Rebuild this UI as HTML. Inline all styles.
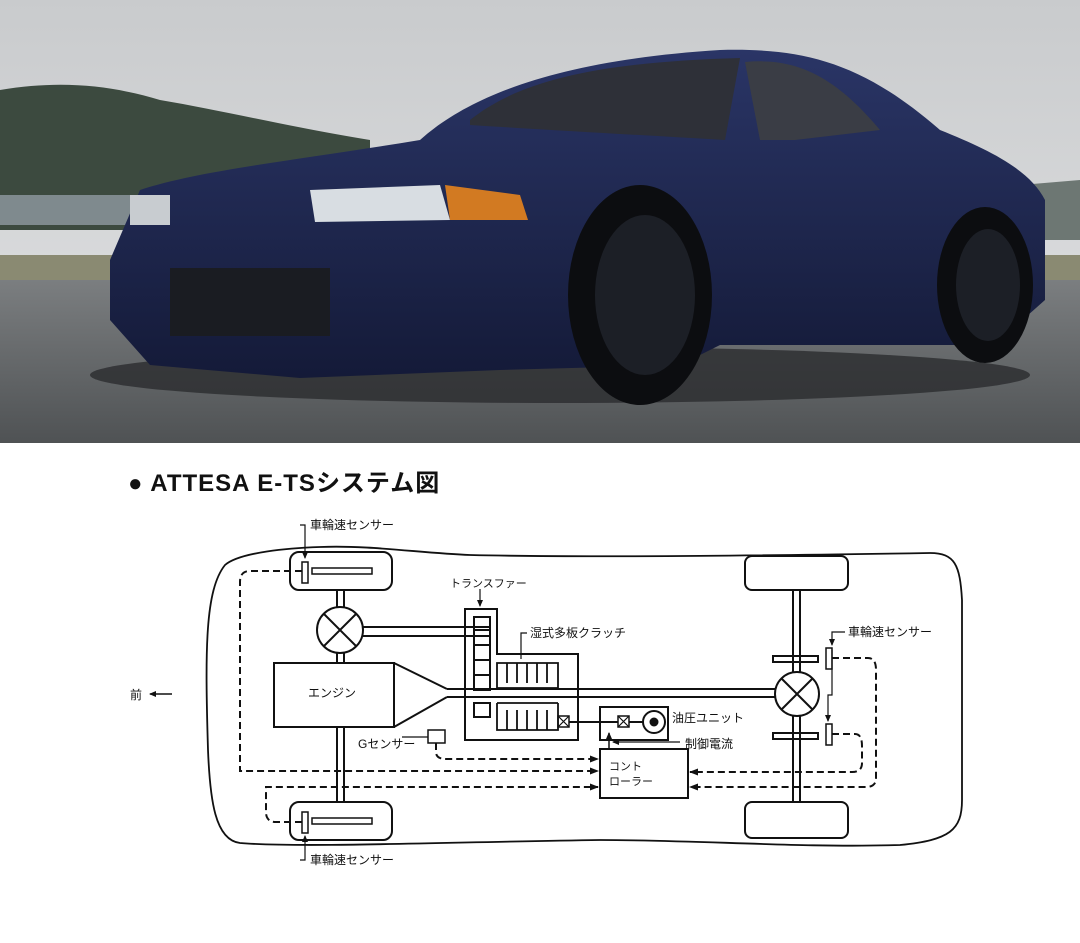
<!DOCTYPE html>
<html><head><meta charset="utf-8"><style>
html,body{margin:0;padding:0;background:#fff;}
body{width:1080px;height:943px;overflow:hidden;position:relative;font-family:"Liberation Sans","Noto Sans CJK JP",sans-serif;}
</style></head><body>
<svg width="1080" height="943" viewBox="0 0 1080 943" xmlns="http://www.w3.org/2000/svg" style="position:absolute;left:0;top:0">
<defs>
<linearGradient id="sky" x1="0" y1="0" x2="0" y2="1"><stop offset="0" stop-color="#c9cbcd"/><stop offset="1" stop-color="#e2e3e4"/></linearGradient>
<linearGradient id="road" x1="0" y1="0" x2="0" y2="1"><stop offset="0" stop-color="#7b7e80"/><stop offset="1" stop-color="#4f5254"/></linearGradient>
<linearGradient id="body" x1="0" y1="0" x2="0" y2="1"><stop offset="0" stop-color="#2a3566"/><stop offset="1" stop-color="#141a38"/></linearGradient>
<marker id="ah" markerUnits="userSpaceOnUse" markerWidth="9" markerHeight="8" refX="8" refY="4" orient="auto"><path d="M0,0.5 L9,4 L0,7.5 z" fill="#111"/></marker>
<marker id="as" markerUnits="userSpaceOnUse" markerWidth="7" markerHeight="6" refX="6" refY="3" orient="auto"><path d="M0,0 L7,3 L0,6 z" fill="#111"/></marker>
</defs>
<rect x="0" y="0" width="1080" height="443" fill="url(#sky)"/>
<path d="M0,90 C60,80 110,85 160,100 C220,110 280,125 370,140 L370,230 L0,230 z" fill="#3c4a3f"/>
<path d="M960,190 L1080,180 L1080,240 L960,240 z" fill="#6d7773"/>
<rect x="0" y="195" width="140" height="30" fill="#7f8a8e"/>
<rect x="0" y="255" width="1080" height="30" fill="#8a8a72"/>
<rect x="0" y="280" width="1080" height="163" fill="url(#road)"/>
<ellipse cx="560" cy="375" rx="470" ry="28" fill="#2b2c2e" opacity="0.8"/>
<path d="M110,260 L140,190 C200,170 300,160 420,140 C470,95 560,60 720,50 C800,48 860,60 940,130 C990,150 1030,170 1045,200 L1045,300 L1000,340 L960,345 L720,345 L680,365 L500,370 L300,378 L150,365 L110,320 z" fill="url(#body)"/>
<path d="M470,120 C520,80 600,62 740,58 L725,140 C640,135 550,130 470,125 z" fill="#2e3038"/>
<path d="M745,62 C790,58 830,70 880,130 L795,140 L760,140 z" fill="#3a3d45"/>
<path d="M310,190 L440,185 L450,220 L315,222 z" fill="#d8dde2"/>
<path d="M445,185 L520,195 L528,220 L450,220 z" fill="#d27a22"/>
<rect x="130" y="195" width="40" height="30" fill="#c8ccd0"/>
<rect x="170" y="268" width="160" height="68" fill="#1a1c22"/>
<ellipse cx="640" cy="295" rx="72" ry="110" fill="#0c0d10"/>
<ellipse cx="645" cy="295" rx="50" ry="80" fill="#1c1f26"/>
<ellipse cx="985" cy="285" rx="48" ry="78" fill="#0c0d10"/>
<ellipse cx="988" cy="285" rx="32" ry="56" fill="#1c1f26"/>
<g fill="none" stroke="#111" stroke-width="2">
<path d="M225,565 C240,552 290,548 320,547 C370,545 420,553 470,555 C600,558 800,555 930,553 C955,553 960,565 962,600 L962,800 C962,830 950,840 900,845 C800,848 700,840 600,840 C450,842 300,848 240,843 C215,840 210,800 208,750 C205,650 205,590 225,565 z" stroke-width="1.8"/>
<rect x="290" y="552" width="102" height="38" rx="9"/>
<rect x="290" y="802" width="102" height="38" rx="9"/>
<rect x="745" y="556" width="103" height="34" rx="7"/>
<rect x="745" y="802" width="103" height="36" rx="7"/>
<rect x="302" y="562" width="6" height="21" stroke-width="1.5"/>
<rect x="312" y="568" width="60" height="6" stroke-width="1.5"/>
<rect x="302" y="812" width="6" height="21" stroke-width="1.5"/>
<rect x="312" y="818" width="60" height="6" stroke-width="1.5"/>
<path d="M337,590 V608 M344,590 V608 M337,652 V663 M344,652 V663 M337,728 V802 M344,728 V802"/>
<circle cx="340" cy="630" r="23"/>
<path d="M324,614 L356,646 M356,614 L324,646"/>
<path d="M363,627 H490 M363,636 H490"/>
<path d="M465,740 V609 H497 V654 H578 V740 z"/>
<rect x="474" y="617" width="16" height="73"/>
<path d="M474,630 H490 M474,645 H490 M474,660 H490 M474,675 H490"/>
<rect x="474" y="703" width="16" height="14"/>
<path d="M497,688 V663 H558 V688 M507,663 V683 M517,663 V683 M527,663 V683 M537,663 V683 M547,663 V683 M497,688 H558" stroke-width="1.8"/>
<path d="M497,703 V730 H558 V703 M507,710 V730 M517,710 V730 M527,710 V730 M537,710 V730 M547,710 V730 M497,703 H558" stroke-width="1.8"/>
<rect x="274" y="663" width="120" height="64"/>
<path d="M394,663 L447,689 M394,727 L447,697"/>
<path d="M447,689 H775 M447,697 H775"/>
<circle cx="797" cy="694" r="22"/>
<path d="M782,679 L812,709 M812,679 L782,709"/>
<path d="M793,590 V672 M800,590 V672 M793,716 V802 M800,716 V802"/>
<rect x="773" y="656" width="45" height="6"/>
<rect x="773" y="733" width="45" height="6"/>
<rect x="826" y="648" width="6" height="21" stroke-width="1.5"/>
<rect x="826" y="724" width="6" height="21" stroke-width="1.5"/>
<rect x="558" y="716" width="11" height="11" stroke-width="1.5"/>
<path d="M558,716 l11,11 M569,716 l-11,11" stroke-width="1.2"/>
<rect x="600" y="707" width="68" height="33"/>
<rect x="618" y="716" width="11" height="11" stroke-width="1.5"/>
<path d="M618,716 l11,11 M629,716 l-11,11" stroke-width="1.2"/>
<path d="M569,722 H618 M629,722 H643"/>
<circle cx="654" cy="722" r="11"/>
<rect x="600" y="749" width="88" height="49"/>
<rect x="428" y="730" width="17" height="13" stroke-width="1.5"/>
<path d="M609,749 V733" marker-end="url(#as)" stroke-width="1.5"/>
<path d="M680,742 H613" marker-end="url(#as)" stroke-width="1.2"/>
<path d="M300,525 H305 V558" marker-end="url(#as)" stroke-width="1.2"/>
<path d="M300,860 H305 V836" marker-end="url(#as)" stroke-width="1.2"/>
<path d="M480,589 V606" marker-end="url(#as)" stroke-width="1.2"/>
<path d="M527,633 H521 V659" stroke-width="1.2"/>
<path d="M845,632 H832 V645" marker-end="url(#as)" stroke-width="1.2"/>
<path d="M832,650 V695 H828 V721" marker-end="url(#as)" stroke-width="1.2"/>
<path d="M172,694 H150" marker-end="url(#as)" stroke-width="1.5"/>
<path d="M402,737 H428" stroke-width="1.2"/>
</g>
<circle cx="654" cy="722" r="4.5" fill="#111"/>
<g fill="none" stroke="#111" stroke-width="2" stroke-dasharray="7,4">
<path d="M302,571 H250 Q240,571 240,582 V771 H598" marker-end="url(#ah)"/>
<path d="M302,822 H276 Q266,822 266,812 V787 H598" marker-end="url(#ah)"/>
<path d="M436,743 V752 Q436,759 446,759 H598" marker-end="url(#ah)"/>
<path d="M832,658 H868 Q876,658 876,670 V778 Q876,787 866,787 H690" marker-end="url(#ah)"/>
<path d="M832,734 H855 Q862,734 862,746 V763 Q862,772 852,772 H690" marker-end="url(#ah)"/>
</g>
<g font-family="'Liberation Sans','Noto Sans CJK JP',sans-serif" fill="#111">
<text x="128" y="491" font-size="24" font-weight="bold" letter-spacing="1">● ATTESA E-TSシステム図</text>
<text x="310" y="529" font-size="12">車輪速センサー</text>
<text x="310" y="864" font-size="12">車輪速センサー</text>
<text x="848" y="636" font-size="12">車輪速センサー</text>
<text x="450" y="587" font-size="11">トランスファー</text>
<text x="530" y="637" font-size="12">湿式多板クラッチ</text>
<text x="308" y="697" font-size="12">エンジン</text>
<text x="672" y="722" font-size="12">油圧ユニット</text>
<text x="685" y="748" font-size="12">制御電流</text>
<text x="358" y="748" font-size="12">Gセンサー</text>
<text x="609" y="770" font-size="11">コント</text>
<text x="609" y="785" font-size="11">ローラー</text>
<text x="130" y="699" font-size="12">前</text>
</g>
</svg>
</body></html>
